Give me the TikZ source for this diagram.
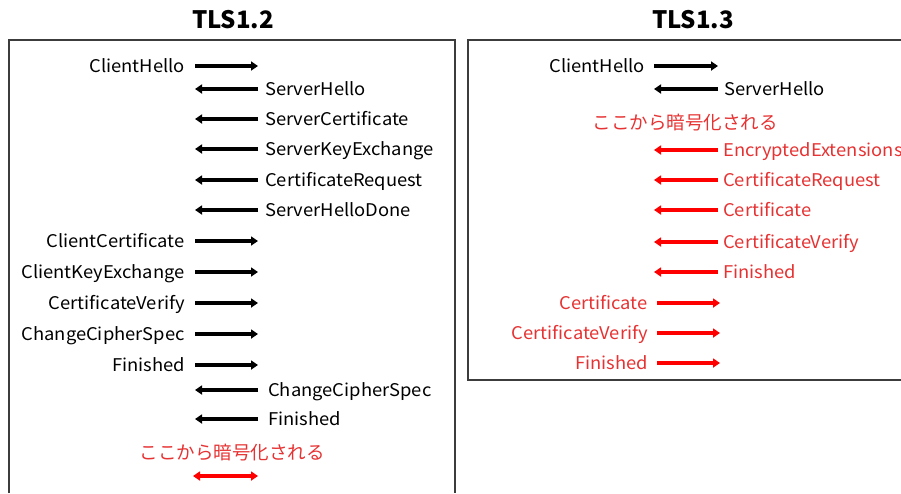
\documentclass[tikz,border=0pt]{standalone}
\usepackage{fontspec}
\setmainfont{Noto Sans CJK JP}
\newfontfamily\lblfont{Noto Sans CJK JP}[FakeStretch=1.05]
\usetikzlibrary{arrows.meta}
\definecolor{msgred}{RGB}{230,50,50}
\definecolor{framegray}{RGB}{60,60,60}
\tikzset{
  frame/.style={draw=framegray, line width=1.1pt},
  title/.style={font=\fontsize{24}{28}\selectfont\bfseries, anchor=center},
  lbl/.style={font=\lblfont\fontsize{17.5}{20}\selectfont, text height=12pt, text depth=0pt, inner sep=0pt},
  cli/.style={lbl, anchor=east},
  srv/.style={lbl, anchor=west},
  jp/.style={font=\fontsize{18.5}{20}\selectfont, text=msgred, inner sep=0pt, anchor=center},
  msg/.style={line width=3.2pt, -{Triangle[length=7pt,width=9pt]}},
  redmsg/.style={msg, draw=red},
  redtxt/.style={text=msgred},
}
\begin{document}
\begin{tikzpicture}[x=1pt, y=-1pt]
\useasboundingbox (0,0) rectangle (901,493);

% ---------- TLS 1.2 ----------
\node[title] (t12) at (233,20) {TLS1.2};
\draw[frame] (9,493) -- (9,40) -- (455,40) -- (455,493);

% client -> server
\foreach \n/\t/\y in {a1/ClientHello/66, a7/ClientCertificate/241, a8/ClientKeyExchange/272, a9/CertificateVerify/303, a10/ChangeCipherSpec/334, a11/Finished/365} {
  \node[cli] (\n) at (185,\y) {\t};
  \coordinate (\n s) at (195,\y);
  \coordinate (\n e) at (258,\y);
  \draw[msg] (\n s) -- (\n e);
}
% server -> client
\foreach \n/\t/\x/\y in {a2/ServerHello/265/89, a3/ServerCertificate/265/119, a4/ServerKeyExchange/265/149, a5/CertificateRequest/265/180, a6/ServerHelloDone/265/210, a12/ChangeCipherSpec/268/390, a13/Finished/268/419} {
  \node[srv] (\n) at (\x,\y) {\t};
  \coordinate (\n s) at (258,\y);
  \coordinate (\n e) at (195,\y);
  \draw[msg] (\n s) -- (\n e);
}
\node[jp] (enc12) at (232,453) {ここから暗号化される};
\coordinate (b1) at (193,476);
\coordinate (b2) at (258,476);
\draw[redmsg, {Triangle[length=7pt,width=9pt]}-{Triangle[length=7pt,width=9pt]}] (b1) -- (b2);

% ---------- TLS 1.3 ----------
\node[title] (t13) at (693,20) {TLS1.3};
\draw[frame] (901,40) -- (468,40) -- (468,380) -- (901,380);

\node[cli] (c1) at (645,66) {ClientHello};
\coordinate (c1s) at (654,66);
\coordinate (c1e) at (718,66);
\draw[msg] (c1s) -- (c1e);

\node[srv] (c2) at (724,89) {ServerHello};
\coordinate (c2s) at (718,89);
\coordinate (c2e) at (654,89);
\draw[msg] (c2s) -- (c2e);

\node[jp] (enc13) at (685,123) {ここから暗号化される};

\foreach \n/\t/\y in {c3/EncryptedExtensions/150, c4/CertificateRequest/180, c5/Certificate/210, c6/CertificateVerify/242, c7/Finished/272} {
  \node[srv, redtxt] (\n) at (723,\y) {\t};
  \coordinate (\n s) at (718,\y);
  \coordinate (\n e) at (654,\y);
  \draw[redmsg] (\n s) -- (\n e);
}
\foreach \n/\t/\y in {c8/Certificate/303, c9/CertificateVerify/333, c10/Finished/363} {
  \node[cli, redtxt] (\n) at (648,\y) {\t};
  \coordinate (\n s) at (657,\y);
  \coordinate (\n e) at (720,\y);
  \draw[redmsg] (\n s) -- (\n e);
}
\end{tikzpicture}
\end{document}
